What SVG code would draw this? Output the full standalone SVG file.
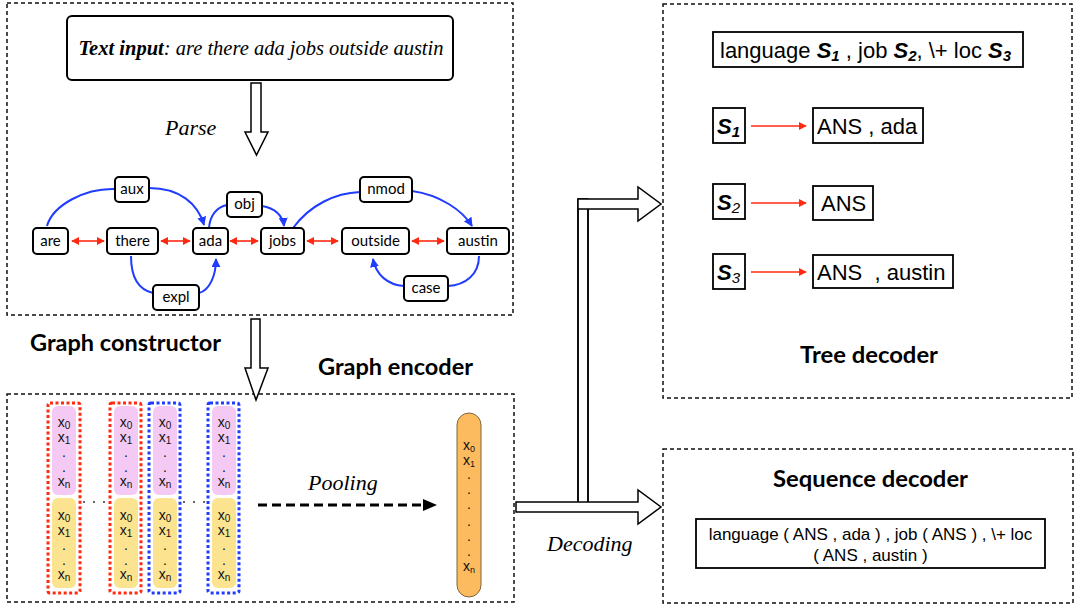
<svg xmlns="http://www.w3.org/2000/svg" width="1080" height="607" viewBox="0 0 1080 607">
<defs>
<marker id="bh" viewBox="0 0 10 10" refX="9" refY="5" markerWidth="9" markerHeight="9" markerUnits="userSpaceOnUse" orient="auto"><path d="M0,0 L10,5 L0,10 Z" fill="#1f3cff"/></marker>
<marker id="rh" viewBox="0 0 10 10" refX="9" refY="5" markerWidth="8" markerHeight="8" markerUnits="userSpaceOnUse" orient="auto-start-reverse"><path d="M0,0 L10,5 L0,10 Z" fill="#ff2a10"/></marker>
<style>
.dash{fill:none;stroke:#111;stroke-width:1.5;stroke-dasharray:4 3}
.node rect{fill:#fff;stroke:#000;stroke-width:2}
.nt{font-family:Lato,"Open Sans",sans-serif;font-size:15px;fill:#000;text-anchor:middle}
.blue{fill:none;stroke:#1f3cff;stroke-width:2}
.red{fill:none;stroke:#ff2a10;stroke-width:1.6}
.hd{font-family:Lato,"Open Sans",sans-serif;font-weight:bold;font-size:22px;fill:#000}
.it{font-family:"Liberation Serif",serif;font-style:italic;font-size:22px;fill:#000}
.hollow{fill:#fff;stroke:#000;stroke-width:1.5}
.pk{fill:#f4caf4}
.yl{fill:#fbe390}
.rd{fill:none;stroke:#ff2a10;stroke-width:3;stroke-dasharray:3 2.5}
.bd{fill:none;stroke:#1f3cff;stroke-width:3;stroke-dasharray:3 2.5}
.xl{font-family:"Liberation Sans",Arial,sans-serif;font-size:14px;fill:#111;text-anchor:middle}
.ar{font-family:"Liberation Sans",Arial,sans-serif;font-size:22px;fill:#000}
.bx{fill:#fff;stroke:#000;stroke-width:1.8}
.sq{font-family:"Liberation Sans",Arial,sans-serif;font-size:17px;fill:#000;text-anchor:middle}
.dt{fill:#333}
</style>
</defs>
<rect width="1080" height="607" fill="#fff"/>

<!-- frames -->
<g id="frames">
<rect class="dash" x="7" y="3" width="506" height="312"/>
<rect class="dash" x="7" y="394" width="507" height="208"/>
<rect class="dash" x="663" y="4" width="409" height="394"/>
<rect class="dash" x="663" y="449" width="410" height="154"/>
</g>

<!-- text input -->
<g id="text-input">
<rect x="67" y="16" width="386" height="64" rx="5" fill="#fff" stroke="#000" stroke-width="2"/>
<text x="261" y="55" text-anchor="middle" font-family="'Liberation Serif',serif" font-style="italic" font-size="20.5"><tspan font-weight="bold">Text input</tspan>: are there ada jobs outside austin</text>
</g>

<!-- hollow arrows -->
<g id="parse-arrow">
<polygon class="hollow" points="251,83 261,83 261,132 268,132 256.5,155 245,132 251,132"/>
<text class="it" x="165" y="135">Parse</text>
</g>
<g id="construct-arrow">
<polygon class="hollow" points="251,319 260,319 260,368 268,368 256,400 245,368 251,368"/>
</g>

<!-- connectors -->
<g id="connectors">
<path class="blue" d="M47,226 C53,205 85,188 115,189"/>
<path class="blue" d="M149,188 C180,188 198,204 204,225" marker-end="url(#bh)"/>
<path class="blue" d="M209,228 C210,215 217,207 227,205"/>
<path class="blue" d="M262,206 C275,208 283,216 284,226" marker-end="url(#bh)"/>
<path class="blue" d="M293,228 C310,205 335,193 360,192"/>
<path class="blue" d="M412,191 C440,195 462,210 472,226" marker-end="url(#bh)"/>
<path class="blue" d="M131,256 C131,280 140,290 153,293"/>
<path class="blue" d="M199,293 C210,290 216,275 216,259" marker-end="url(#bh)"/>
<path class="blue" d="M479,256 C479,275 465,285 448,286"/>
<path class="blue" d="M404,286 C388,285 376,275 373,259" marker-end="url(#bh)"/>
<line class="red" x1="72" y1="241" x2="104" y2="241" marker-start="url(#rh)" marker-end="url(#rh)"/>
<line class="red" x1="161" y1="241" x2="190" y2="241" marker-start="url(#rh)" marker-end="url(#rh)"/>
<line class="red" x1="230" y1="241" x2="258" y2="241" marker-start="url(#rh)" marker-end="url(#rh)"/>
<line class="red" x1="307" y1="241" x2="338" y2="241" marker-start="url(#rh)" marker-end="url(#rh)"/>
<line class="red" x1="412" y1="241" x2="444" y2="241" marker-start="url(#rh)" marker-end="url(#rh)"/>
</g>

<!-- graph nodes -->
<g id="n-are" class="node"><rect x="33" y="228" width="35" height="26" rx="4"/><text class="nt" x="50.5" y="246">are</text></g>
<g id="n-there" class="node"><rect x="107" y="228" width="51" height="26" rx="4"/><text class="nt" x="132.5" y="246">there</text></g>
<g id="n-ada" class="node"><rect x="193" y="228" width="35" height="26" rx="4"/><text class="nt" x="210.5" y="246">ada</text></g>
<g id="n-jobs" class="node"><rect x="261" y="228" width="43" height="26" rx="4"/><text class="nt" x="282.5" y="246">jobs</text></g>
<g id="n-outside" class="node"><rect x="342" y="228" width="67" height="26" rx="4"/><text class="nt" x="375.5" y="246">outside</text></g>
<g id="n-austin" class="node"><rect x="447" y="228" width="62" height="26" rx="4"/><text class="nt" x="478" y="246">austin</text></g>
<g id="n-aux" class="node"><rect x="115" y="177" width="34" height="25" rx="4"/><text class="nt" x="132" y="194">aux</text></g>
<g id="n-obj" class="node"><rect x="227" y="192" width="35" height="25" rx="4"/><text class="nt" x="244.5" y="209">obj</text></g>
<g id="n-nmod" class="node"><rect x="360" y="177" width="52" height="25" rx="4"/><text class="nt" x="386" y="194">nmod</text></g>
<g id="n-expl" class="node"><rect x="153" y="285" width="46" height="25" rx="4"/><text class="nt" x="176" y="302">expl</text></g>
<g id="n-case" class="node"><rect x="404" y="276" width="44" height="25" rx="4"/><text class="nt" x="426" y="293">case</text></g>

<text class="hd" x="30" y="351" textLength="191" lengthAdjust="spacingAndGlyphs">Graph constructor</text>
<text class="hd" x="318" y="375" textLength="155" lengthAdjust="spacingAndGlyphs">Graph encoder</text>

<!-- encoder columns -->
<g id="col1">
<rect class="pk" x="52" y="406" width="24" height="89" rx="6"/>
<rect class="yl" x="52" y="498" width="24" height="90" rx="6"/>
<rect class="rd" x="48" y="403" width="32" height="190" rx="2"/>
<text class="xl" x="64" y="427">x<tspan font-size="10" dy="2">0</tspan></text>
<text class="xl" x="64" y="442">x<tspan font-size="10" dy="2">1</tspan></text>
<text class="xl" x="64" y="457" font-size="9">.</text><text class="xl" x="64" y="472" font-size="9">.</text>
<text class="xl" x="64" y="486">x<tspan font-size="10" dy="2">n</tspan></text>
<text class="xl" x="64" y="520">x<tspan font-size="10" dy="2">0</tspan></text>
<text class="xl" x="64" y="535">x<tspan font-size="10" dy="2">1</tspan></text>
<text class="xl" x="64" y="550" font-size="9">.</text><text class="xl" x="64" y="565" font-size="9">.</text>
<text class="xl" x="64" y="579">x<tspan font-size="10" dy="2">n</tspan></text>
</g>
<g id="col2">
<rect class="pk" x="114" y="406" width="24" height="89" rx="6"/>
<rect class="yl" x="114" y="498" width="24" height="90" rx="6"/>
<rect class="rd" x="110" y="403" width="31" height="190" rx="2"/>
<text class="xl" x="126" y="427">x<tspan font-size="10" dy="2">0</tspan></text>
<text class="xl" x="126" y="442">x<tspan font-size="10" dy="2">1</tspan></text>
<text class="xl" x="126" y="457" font-size="9">.</text><text class="xl" x="126" y="472" font-size="9">.</text>
<text class="xl" x="126" y="486">x<tspan font-size="10" dy="2">n</tspan></text>
<text class="xl" x="126" y="520">x<tspan font-size="10" dy="2">0</tspan></text>
<text class="xl" x="126" y="535">x<tspan font-size="10" dy="2">1</tspan></text>
<text class="xl" x="126" y="550" font-size="9">.</text><text class="xl" x="126" y="565" font-size="9">.</text>
<text class="xl" x="126" y="579">x<tspan font-size="10" dy="2">n</tspan></text>
</g>
<g id="col3">
<rect class="pk" x="153" y="406" width="24" height="89" rx="6"/>
<rect class="yl" x="153" y="498" width="24" height="90" rx="6"/>
<rect class="bd" x="149" y="403" width="31" height="190" rx="2"/>
<text class="xl" x="165" y="427">x<tspan font-size="10" dy="2">0</tspan></text>
<text class="xl" x="165" y="442">x<tspan font-size="10" dy="2">1</tspan></text>
<text class="xl" x="165" y="457" font-size="9">.</text><text class="xl" x="165" y="472" font-size="9">.</text>
<text class="xl" x="165" y="486">x<tspan font-size="10" dy="2">n</tspan></text>
<text class="xl" x="165" y="520">x<tspan font-size="10" dy="2">0</tspan></text>
<text class="xl" x="165" y="535">x<tspan font-size="10" dy="2">1</tspan></text>
<text class="xl" x="165" y="550" font-size="9">.</text><text class="xl" x="165" y="565" font-size="9">.</text>
<text class="xl" x="165" y="579">x<tspan font-size="10" dy="2">n</tspan></text>
</g>
<g id="col4">
<rect class="pk" x="212" y="406" width="24" height="89" rx="6"/>
<rect class="yl" x="212" y="498" width="24" height="90" rx="6"/>
<rect class="bd" x="208" y="403" width="31" height="190" rx="2"/>
<text class="xl" x="224" y="427">x<tspan font-size="10" dy="2">0</tspan></text>
<text class="xl" x="224" y="442">x<tspan font-size="10" dy="2">1</tspan></text>
<text class="xl" x="224" y="457" font-size="9">.</text><text class="xl" x="224" y="472" font-size="9">.</text>
<text class="xl" x="224" y="486">x<tspan font-size="10" dy="2">n</tspan></text>
<text class="xl" x="224" y="520">x<tspan font-size="10" dy="2">0</tspan></text>
<text class="xl" x="224" y="535">x<tspan font-size="10" dy="2">1</tspan></text>
<text class="xl" x="224" y="550" font-size="9">.</text><text class="xl" x="224" y="565" font-size="9">.</text>
<text class="xl" x="224" y="579">x<tspan font-size="10" dy="2">n</tspan></text>
</g>
<g id="ellipsis">
<circle class="dt" cx="84" cy="502" r="1"/><circle class="dt" cx="94" cy="502" r="1"/><circle class="dt" cx="104" cy="502" r="1"/>
<circle class="dt" cx="184" cy="502" r="1"/><circle class="dt" cx="194" cy="502" r="1"/><circle class="dt" cx="204" cy="502" r="1"/>
</g>

<!-- pooling -->
<g id="pooling">
<line x1="258" y1="505" x2="424" y2="505" stroke="#000" stroke-width="3" stroke-dasharray="9 5"/>
<polygon points="423,499 437,505 423,511" fill="#000"/>
<text class="it" x="308" y="490">Pooling</text>
</g>
<g id="pooled">
<rect x="457" y="413" width="24" height="184" rx="12" fill="#fdbb60" stroke="#7d6440" stroke-width="1"/>
<text class="xl" x="469" y="450" font-size="12">x<tspan font-size="9" dy="2">0</tspan></text>
<text class="xl" x="469" y="465" font-size="12">x<tspan font-size="9" dy="2">1</tspan></text>
<text class="xl" x="469" y="479" font-size="9">.</text>
<text class="xl" x="469" y="494" font-size="9">.</text>
<text class="xl" x="469" y="509" font-size="9">.</text>
<text class="xl" x="469" y="526" font-size="9">.</text>
<text class="xl" x="469" y="541" font-size="9">.</text>
<text class="xl" x="469" y="556" font-size="9">.</text>
<text class="xl" x="469" y="571" font-size="12">x<tspan font-size="9" dy="2">n</tspan></text>
</g>

<!-- decoding arrows -->
<g id="decoding">
<rect class="hollow" x="578" y="199" width="10" height="308"/>
<polygon class="hollow" points="578,199 638,199 638,187 661,204 638,221 638,209 578,209"/>
<polygon class="hollow" points="516,502 638,502 638,490 661,507 638,524 638,512 516,512"/>
<line x1="578" y1="209" x2="578" y2="502" stroke="#000" stroke-width="1.5"/>
<line x1="588" y1="209" x2="588" y2="502" stroke="#000" stroke-width="1.5"/>
<text class="it" x="547" y="551">Decoding</text>
</g>

<!-- tree decoder -->
<g id="tree-formula">
<rect class="bx" x="713" y="32" width="310" height="35"/>
<text class="ar" x="720" y="58" xml:space="preserve">language <tspan font-weight="bold" font-style="italic">S</tspan><tspan font-weight="bold" font-style="italic" font-size="15" dy="3">1</tspan><tspan dy="-3"> , job </tspan><tspan font-weight="bold" font-style="italic">S</tspan><tspan font-weight="bold" font-style="italic" font-size="15" dy="3">2</tspan><tspan dy="-3">, \+ loc </tspan><tspan font-weight="bold" font-style="italic">S</tspan><tspan font-weight="bold" font-style="italic" font-size="15" dy="3">3</tspan></text>
</g>
<g id="s1">
<rect class="bx" x="713" y="108" width="32" height="35"/>
<text class="ar" x="717" y="134"><tspan font-weight="bold" font-style="italic">S</tspan><tspan font-weight="bold" font-style="italic" font-size="15" dy="3">1</tspan></text>
</g>
<g id="r1"><rect class="bx" x="813" y="108" width="110" height="35"/><text class="ar" x="817" y="134">ANS , ada</text></g>
<g id="s2">
<rect class="bx" x="713" y="184" width="32" height="35"/>
<text class="ar" x="717" y="210"><tspan font-weight="bold" font-style="italic">S</tspan><tspan font-style="italic" font-size="15" dy="3">2</tspan></text>
</g>
<g id="r2"><rect class="bx" x="813" y="186" width="60" height="34"/><text class="ar" x="821" y="211">ANS</text></g>
<g id="s3">
<rect class="bx" x="713" y="254" width="32" height="35"/>
<text class="ar" x="717" y="280"><tspan font-weight="bold" font-style="italic">S</tspan><tspan font-style="italic" font-size="15" dy="3">3</tspan></text>
</g>
<g id="r3"><rect class="bx" x="813" y="255" width="140" height="33"/><text class="ar" x="817" y="280" xml:space="preserve">ANS  , austin</text></g>
<g id="tree-connectors">
<line x1="751" y1="126" x2="806" y2="126" stroke="#ff2a10" stroke-width="1.6" marker-end="url(#rh)"/>
<line x1="751" y1="203" x2="806" y2="203" stroke="#ff2a10" stroke-width="1.6" marker-end="url(#rh)"/>
<line x1="751" y1="272" x2="806" y2="272" stroke="#ff2a10" stroke-width="1.6" marker-end="url(#rh)"/>
</g>
<text class="hd" x="800" y="363" textLength="138" lengthAdjust="spacingAndGlyphs">Tree decoder</text>

<!-- sequence decoder -->
<text class="hd" x="773" y="487" font-size="23" textLength="195" lengthAdjust="spacingAndGlyphs">Sequence decoder</text>
<g id="seq-out">
<rect class="bx" x="696" y="519" width="349" height="49"/>
<text class="sq" x="870.5" y="540">language ( ANS , ada ) , job ( ANS ) , \+ loc</text>
<text class="sq" x="870.5" y="561">( ANS , austin )</text>
</g>
</svg>
